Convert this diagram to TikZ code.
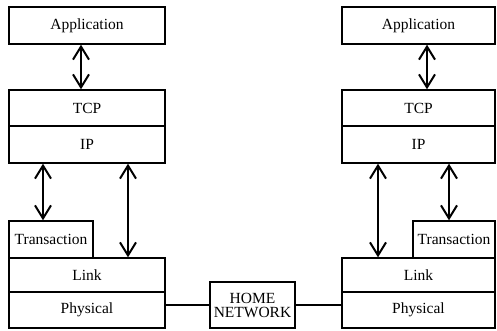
\documentclass[tikz,border=0pt]{standalone}
\usepackage{fontspec}
\setmainfont{Liberation Serif}
\usetikzlibrary{arrows.meta}
\begin{document}
\begin{tikzpicture}[x=1pt,y=-1pt,
  box/.style={draw,line width=1.4pt,rectangle,inner sep=0pt,font=\fontsize{15.5}{15}\selectfont},
  arr/.style={line width=1.1pt,{Straight Barb[length=13pt,width=16pt,line width=2pt]}-{Straight Barb[length=13pt,width=16pt,line width=2pt]}},
  wire/.style={line width=1.3pt}]
\useasboundingbox (0,0) rectangle (497,331);
% left stack
\node[box,minimum width=156pt,minimum height=37pt] (lapp) at (87,25.5) {Application};
\node[box,minimum width=156pt,minimum height=36pt] (ltcp) at (87,108) {TCP};
\node[box,minimum width=156pt,minimum height=37pt] (lip) at (87,144.5) {IP};
\node[box,minimum width=84pt,minimum height=37pt] (ltr) at (51,239.5) {Transaction};
\node[box,minimum width=156pt,minimum height=34pt] (llink) at (87,275) {Link};
\node[box,minimum width=156pt,minimum height=36pt] (lphy) at (87,310) {Physical};
% right stack
\node[box,minimum width=153pt,minimum height=37pt] (rapp) at (418.5,25.5) {Application};
\node[box,minimum width=153pt,minimum height=36pt] (rtcp) at (418.5,108) {TCP};
\node[box,minimum width=153pt,minimum height=37pt] (rip) at (418.5,144.5) {IP};
\node[box,minimum width=82pt,minimum height=37pt] (rtr) at (454,239.5) {Transaction};
\node[box,minimum width=153pt,minimum height=34pt] (rlink) at (418.5,275) {Link};
\node[box,minimum width=153pt,minimum height=36pt] (rphy) at (418.5,310) {Physical};
% home network
\node[box,minimum width=85pt,minimum height=46pt,align=center,font=\fontsize{15.5}{14}\selectfont] (home) at (252.5,305) {HOME\\NETWORK};
% arrows
\draw[arr] ([xshift=-6pt]lapp.south) -- ([xshift=-6pt]ltcp.north);
\draw[arr] ([xshift=-44pt]lip.south) -- ([xshift=-8pt]ltr.north);
\draw[arr] ([xshift=41pt]lip.south) -- ([xshift=41pt]llink.north);
\draw[arr] ([xshift=8.5pt]rapp.south) -- ([xshift=8.5pt]rtcp.north);
\draw[arr] ([xshift=-40.5pt]rip.south) -- ([xshift=-40.5pt]rlink.north);
\draw[arr] ([xshift=30.5pt]rip.south) -- ([xshift=-5pt]rtr.north);
% wires
\draw[wire] (home.west) -- (home.west -| lphy.east);
\draw[wire] (home.east) -- (home.east -| rphy.west);
\end{tikzpicture}
\end{document}
